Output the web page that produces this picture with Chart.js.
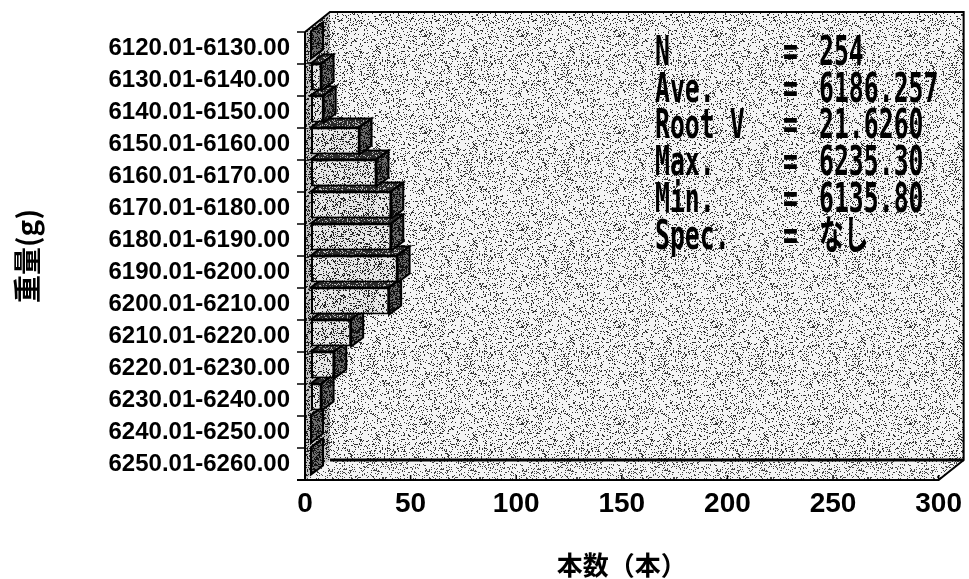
<!DOCTYPE html>
<html>
<head>
<meta charset="utf-8">
<script src="https://cdn.jsdelivr.net/npm/chart.js@4"></script>
<style>
  html, body { margin: 0; padding: 0; background: #fff; }
  #wrap { width: 969px; height: 579px; }
</style>
</head>
<body>
<div id="wrap"><canvas id="myChart" width="969" height="579"></canvas></div>
<script>
const categories = [
  '6120.01-6130.00', '6130.01-6140.00', '6140.01-6150.00', '6150.01-6160.00',
  '6160.01-6170.00', '6170.01-6180.00', '6180.01-6190.00', '6190.01-6200.00',
  '6200.01-6210.00', '6210.01-6220.00', '6220.01-6230.00', '6230.01-6240.00',
  '6240.01-6250.00', '6250.01-6260.00'
];
const counts = [0, 5, 6, 23, 31, 38, 38, 41, 37, 19, 11, 5, 0, 0];
const xTicks = [0, 50, 100, 150, 200, 250, 300];
const statNames = ['N', 'Ave.', 'Root V', 'Max.', 'Min.', 'Spec.'];
const statValues = ['254', '6186.257', '21.6260', '6235.30', '6135.80', 'なし'];

// depth of the plot box and of each bar (oblique 3D look)
const DX = 25, DY = 20;
const BX = 12, BY = 9;
const SHIFT_X = 6, SHIFT_Y = -3;

// dotted fill like the scanned print (fixed hash, same every run)
function stipple(base, dot, every) {
  const c = document.createElement('canvas');
  c.width = c.height = 97;
  const g = c.getContext('2d');
  g.fillStyle = base;
  g.fillRect(0, 0, 97, 97);
  g.fillStyle = dot;
  for (let y = 0; y < 97; y++) {
    for (let x = 0; x < 97; x++) {
      let h = Math.imul(x + 11, 374761393) ^ Math.imul(y + 7, 668265263);
      h = Math.imul(h ^ (h >>> 15), 2246822519);
      h = Math.imul(h ^ (h >>> 13), 3266489917);
      h = (h ^ (h >>> 16)) >>> 0;
      if (h % every === 0) g.fillRect(x, y, 1, 1);
    }
  }
  return g.createPattern(c, 'repeat');
}

const pats = {
  wall: stipple('#f4f4f4', '#333', 6),
  floor: stipple('#f4f4f4', '#444', 6),
  leftWall: stipple('#c4c4c4', '#222', 3),
  front: stipple('#e6e6e6', '#222', 4),
  barSide: stipple('#6c6c6c', '#111', 2),
  barTop: stipple('#2a2a2a', '#bbb', 5)
};

function poly(ctx, pts) {
  ctx.beginPath();
  ctx.moveTo(pts[0][0], pts[0][1]);
  for (let i = 1; i < pts.length; i++) ctx.lineTo(pts[i][0], pts[i][1]);
  ctx.closePath();
}

function narrowText(ctx, text, x, y) {
  ctx.save();
  ctx.translate(x, y);
  ctx.scale(0.62, 1);
  ctx.fillText(text, 0, 0);
  ctx.restore();
}

const box3d = {
  id: 'box3d',
  beforeDatasetsDraw(chart) {
    const { ctx, chartArea: a, scales } = chart;
    const L = a.left, R = a.right, T = a.top, B = a.bottom;

    ctx.save();
    // back wall
    ctx.fillStyle = pats.wall;
    ctx.fillRect(L + DX, T - DY, R - L, B - T);
    // floor
    poly(ctx, [[L, B], [R, B], [R + DX, B - DY], [L + DX, B - DY]]);
    ctx.fillStyle = pats.floor;
    ctx.fill();
    // left wall
    poly(ctx, [[L, T], [L + DX, T - DY], [L + DX, B - DY], [L, B]]);
    ctx.fillStyle = pats.leftWall;
    ctx.fill();

    ctx.strokeStyle = '#000';
    ctx.lineWidth = 2;
    ctx.beginPath();
    ctx.moveTo(L, T);
    ctx.lineTo(L + DX, T - DY);
    ctx.lineTo(R + DX, T - DY);
    ctx.lineTo(R + DX, B - DY);
    ctx.lineTo(R, B);
    ctx.lineTo(L - 8, B);
    ctx.moveTo(L, T);
    ctx.lineTo(L, B);
    ctx.stroke();

    ctx.lineWidth = 3;
    ctx.beginPath();
    ctx.moveTo(L + DX, B - DY);
    ctx.lineTo(R + DX, B - DY);
    ctx.stroke();

    // small ticks on the wall edge and the floor edge
    ctx.lineWidth = 1.5;
    ctx.beginPath();
    for (let i = 0; i <= categories.length; i++) {
      const y = scales.y.getPixelForValue(i - 0.5);
      ctx.moveTo(L - 8, y);
      ctx.lineTo(L, y);
    }
    xTicks.forEach(v => {
      const x = scales.x.getPixelForValue(v);
      ctx.moveTo(x, B);
      ctx.lineTo(x, B - 5);
    });
    ctx.stroke();
    ctx.restore();

    // side and top faces of the bars, lowest bar first
    ctx.save();
    ctx.translate(SHIFT_X, SHIFT_Y);
    ctx.strokeStyle = '#000';
    ctx.lineWidth = 2;
    const bars = chart.getDatasetMeta(0).data;
    for (let i = bars.length - 1; i >= 0; i--) {
      const { x, y, base, height } = bars[i].getProps(['x', 'y', 'base', 'height'], true);
      const top = y - height / 2, bot = y + height / 2;
      poly(ctx, [[base, top], [base + BX, top - BY], [x + BX, top - BY], [x, top]]);
      ctx.fillStyle = pats.barTop;
      ctx.fill();
      ctx.stroke();
      poly(ctx, [[x, top], [x + BX, top - BY], [x + BX, bot - BY], [x, bot]]);
      ctx.fillStyle = pats.barSide;
      ctx.fill();
      ctx.stroke();
    }
    // still translated while the library draws the front faces
  },
  afterDatasetsDraw(chart) {
    chart.ctx.restore();
  },
  afterDraw(chart) {
    const ctx = chart.ctx;
    ctx.save();
    ctx.fillStyle = '#000';
    ctx.font = 'bold 40px "DejaVu Sans Mono", "Noto Sans CJK JP"';
    ctx.textBaseline = 'alphabetic';
    statNames.forEach((name, i) => {
      const y = 65 + i * 36.7;
      narrowText(ctx, name, 655, y);
      narrowText(ctx, '=', 783, y);
      narrowText(ctx, statValues[i], 819, y);
    });
    ctx.restore();
  }
};

const ctx = document.getElementById('myChart');

const myChart = new Chart(ctx, {
  type: 'bar',
  data: {
    labels: categories,
    datasets: [{
      data: counts,
      backgroundColor: pats.front,
      borderColor: '#000',
      borderWidth: 2,
      borderSkipped: false,
      barPercentage: 0.85,
      categoryPercentage: 1.0
    }]
  },
  options: {
    indexAxis: 'y',
    responsive: false,
    animation: false,
    layout: { padding: { top: 32, right: 27, left: 0, bottom: 0 } },
    plugins: {
      legend: { display: false },
      tooltip: { enabled: false }
    },
    scales: {
      x: {
        type: 'linear',
        min: 0,
        max: 300,
        afterFit(scale) { scale.height = 99; },
        afterBuildTicks(scale) { scale.ticks = xTicks.map(v => ({ value: v })); },
        grid: { display: false, drawTicks: false },
        border: { display: false },
        ticks: {
          color: '#000',
          padding: 7,
          maxRotation: 0,
          font: { family: '"Liberation Sans", Arial, sans-serif', size: 28, weight: 'bold' }
        },
        title: {
          display: true,
          text: '本数（本）',
          color: '#000',
          padding: { top: 0, bottom: 0 },
          font: { family: '"Noto Sans CJK JP", sans-serif', size: 26, weight: 'bold', lineHeight: 1.08 }
        }
      },
      y: {
        type: 'category',
        afterFit(scale) { scale.width = 305; },
        grid: { display: false, drawTicks: false },
        border: { display: false },
        ticks: {
          color: '#000',
          padding: 15,
          autoSkip: false,
          font: { family: '"Liberation Sans", Arial, sans-serif', size: 24, weight: 'bold' }
        },
        title: {
          display: true,
          text: '重量(g)',
          color: '#000',
          padding: { top: 12, bottom: 0 },
          font: { family: '"Noto Sans CJK JP", sans-serif', size: 28, weight: 'bold', lineHeight: 1.07 }
        }
      }
    }
  },
  plugins: [box3d]
});
</script>
</body>
</html>
